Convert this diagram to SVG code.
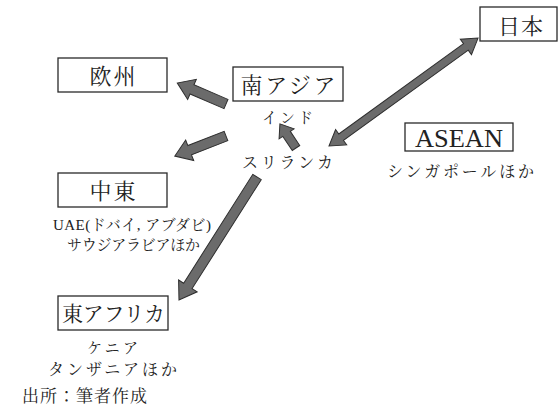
<svg xmlns="http://www.w3.org/2000/svg" width="559" height="407" viewBox="0 0 559 407">
<style>
  .box { fill: #ffffff; stroke: #2a2a2a; stroke-width: 1.3; }
  .t { font-family: "Liberation Serif", "Noto Serif CJK JP", "Noto Sans CJK JP", serif; fill: #222222; text-anchor: middle; }
  .lbl { font-size: 22px; }
  .sub { font-size: 15px; }
  .arr { fill: #6b6b6b; stroke: #2e2e2e; stroke-width: 1; stroke-linejoin: miter; }
</style>
<rect width="559" height="407" fill="#ffffff"/>
<g id="connectors">
  <polygon class="arr" points="0,-5 37,-5 37,-11 53,0 37,11 37,5 0,5" transform="translate(226,104) rotate(203.2)"/>
  <polygon class="arr" points="0,-5 39,-5 39,-11 55,0 39,11 39,5 0,5" transform="translate(226,136) rotate(158.6)"/>
  <polygon class="arr" points="0,-4.5 17,-4.5 17,-9 29,0 17,9 17,4.5 0,4.5" transform="translate(296,148) rotate(236.3)"/>
  <polygon class="arr" points="0,0 15,-9.5 15,-4 169,-4 169,-9.5 184,0 169,9.5 169,4 15,4 15,9.5" transform="translate(329,146) rotate(-35.9)"/>
  <polygon class="arr" points="0,-5 129,-5 129,-11 145.6,0 129,11 129,5 0,5" transform="translate(257,177) rotate(122.4)"/>
</g>
<g id="europe">
  <rect class="box" x="58" y="58" width="109" height="34"/>
  <text class="t lbl" x="112.5" y="84" textLength="46" lengthAdjust="spacing">欧州</text>
</g>
<g id="south-asia">
  <rect class="box" x="233" y="67" width="110" height="34"/>
  <text class="t lbl" x="288" y="92.5" textLength="95" lengthAdjust="spacing">南アジア</text>
  <text class="t sub" x="287.5" y="122.5" textLength="51" lengthAdjust="spacing">インド</text>
  <text class="t" style="font-size:16px" x="287.5" y="168" textLength="91" lengthAdjust="spacing">スリランカ</text>
</g>
<g id="japan">
  <rect class="box" x="480" y="7" width="77" height="34"/>
  <text class="t lbl" x="520.5" y="33.5" textLength="45" lengthAdjust="spacing">日本</text>
</g>
<g id="asean">
  <rect class="box" x="405" y="123" width="108" height="28"/>
  <text class="t" style="font-size:26px" x="459" y="147" textLength="88" lengthAdjust="spacingAndGlyphs">ASEAN</text>
  <text class="t" style="font-size:16px" x="460.5" y="177" textLength="147" lengthAdjust="spacing">シンガポールほか</text>
</g>
<g id="middle-east">
  <rect class="box" x="58" y="173" width="109" height="34"/>
  <text class="t lbl" x="112.5" y="199" textLength="46" lengthAdjust="spacing">中東</text>
  <text class="t sub" x="132" y="230" textLength="158" lengthAdjust="spacing">UAE(ドバイ, アブダビ)</text>
  <text class="t sub" x="133.5" y="249.5" textLength="133" lengthAdjust="spacing">サウジアラビアほか</text>
</g>
<g id="east-africa">
  <rect class="box" x="58" y="296" width="110" height="34"/>
  <text class="t" style="font-size:21px" x="113.5" y="321" textLength="103" lengthAdjust="spacing">東アフリカ</text>
  <text class="t sub" x="112.5" y="353" textLength="51" lengthAdjust="spacing">ケニア</text>
  <text class="t" style="font-size:16px" x="112.5" y="375" textLength="129" lengthAdjust="spacing">タンザニアほか</text>
</g>
<g id="source">
  <text class="t" style="font-size:17px" x="84.5" y="401.5" textLength="125" lengthAdjust="spacing">出所：筆者作成</text>
</g>
</svg>
